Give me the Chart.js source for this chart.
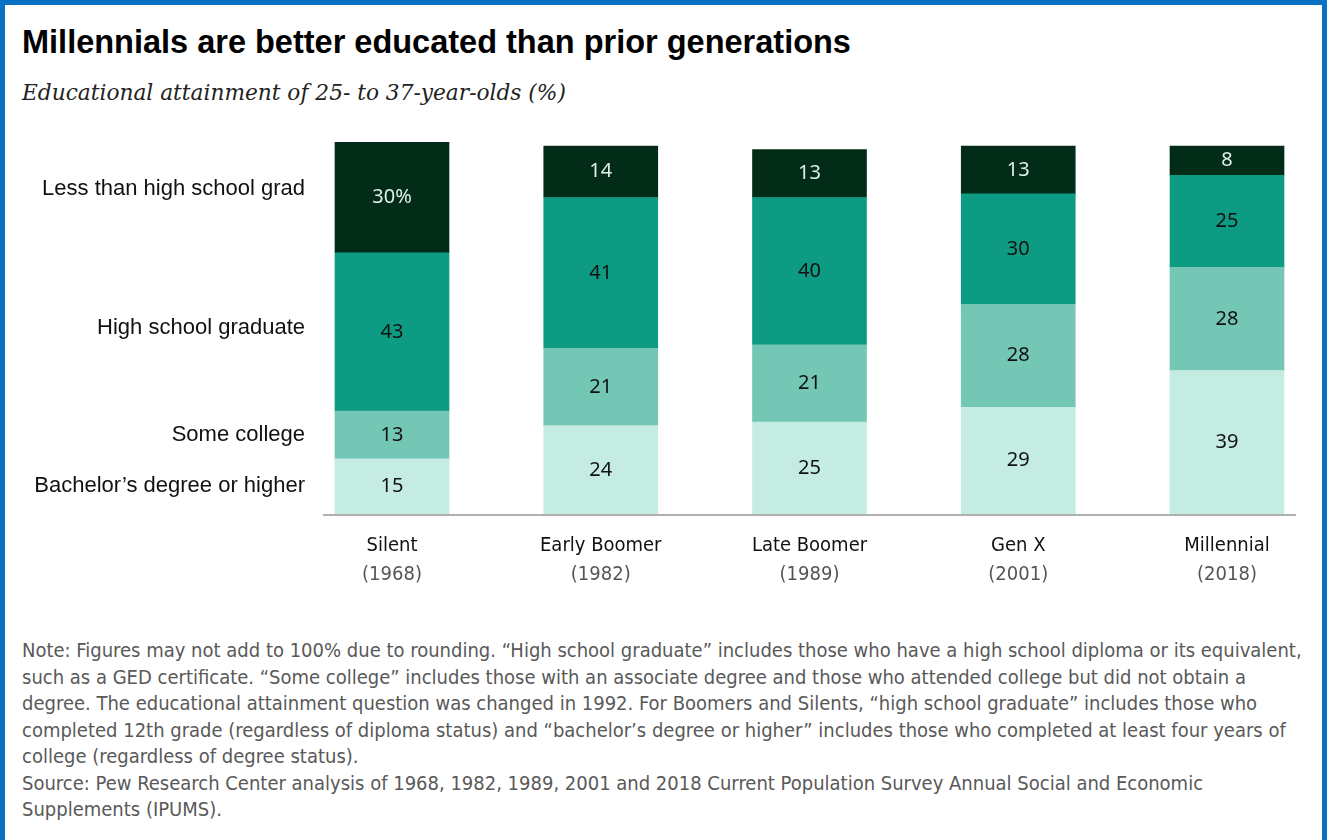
<!DOCTYPE html>
<html>
<head>
<meta charset="utf-8">
<script src="https://cdn.jsdelivr.net/npm/chart.js@4"></script>
<style>
    body { margin: 0; background: #fff; }
    #frame {
        position: absolute; left: 0; top: 0;
        width: 1317px; height: 845px;
        border: 5px solid #0a72c4; border-bottom: none;
        box-sizing: content-box;
    }
    #title {
        position: absolute; left: 22px; top: 24px;
        font: bold 32.5px "Liberation Sans", Arial, sans-serif;
        color: #000; white-space: nowrap;
    }
    #subtitle {
        position: absolute; left: 22px; top: 80px;
        font: italic 21.7px "DejaVu Serif", "Liberation Serif", serif;
        color: #222; white-space: nowrap;
    }
    #note {
        position: absolute; left: 22px; top: 637px;
        font: 20px "Liberation Sans Narrow", "DejaVu Sans Condensed", sans-serif;
        line-height: 26.5px; color: #595959; white-space: nowrap;
    }
    #c { position: absolute; left: 0; top: 0; }
</style>
</head>
<body>
<div id="frame"></div>
<div id="title">Millennials are better educated than prior generations</div>
<div id="subtitle">Educational attainment of 25- to 37-year-olds (%)</div>
<div id="note">Note: Figures may not add to 100% due to rounding. “High school graduate” includes those who have a high school diploma or its equivalent,<br>such as a GED certificate. “Some college” includes those with an associate degree and those who attended college but did not obtain a<br>degree. The educational attainment question was changed in 1992. For Boomers and Silents, “high school graduate” includes those who<br>completed 12th grade (regardless of diploma status) and “bachelor’s degree or higher” includes those who completed at least four years of<br>college (regardless of degree status).<br>Source: Pew Research Center analysis of 1968, 1982, 1989, 2001 and 2018 Current Population Survey Annual Social and Economic<br>Supplements (IPUMS).</div>
<canvas id="c" width="1327" height="840"></canvas>
<script>
const generations = ['Silent', 'Early Boomer', 'Late Boomer', 'Gen X', 'Millennial'];
const years = ['(1968)', '(1982)', '(1989)', '(2001)', '(2018)'];

// stacked from the bottom up
const bachelor = [15, 24, 25, 29, 39];
const someCollege = [13, 21, 21, 28, 28];
const hsGrad = [43, 41, 40, 30, 25];
const lessHS = [30, 14, 13, 13, 8];

const seriesNames = ['Bachelor’s degree or higher', 'Some college', 'High school graduate', 'Less than high school grad'];
const colors = ['#c4ece3', '#74c7b5', '#0d9b84', '#032c18'];
const labelColors = ['#111', '#111', '#111', '#dfeee6'];

const sans = '"Liberation Sans", Arial, sans-serif';
const narrow = '"Liberation Sans Narrow", "DejaVu Sans Condensed", sans-serif';

const drawExtras = {
    id: 'drawExtras',
    afterDatasetsDraw(chart) {
        let ctx = chart.ctx;
        let area = chart.chartArea;
        let x = chart.scales.x;
        ctx.save();

        // baseline
        ctx.strokeStyle = '#b0b0b0';
        ctx.lineWidth = 2;
        ctx.beginPath();
        ctx.moveTo(323, area.bottom + 1);
        ctx.lineTo(1296, area.bottom + 1);
        ctx.stroke();

        // values inside the segments
        ctx.textAlign = 'center';
        ctx.textBaseline = 'middle';
        ctx.font = '20px "Noto Sans", ' + sans;
        chart.data.datasets.forEach((ds, i) => {
            chart.getDatasetMeta(i).data.forEach((bar, j) => {
                let txt = String(ds.data[j]);
                if (i === 3 && j === 0) txt += '%';
                ctx.fillStyle = labelColors[i];
                ctx.fillText(txt, bar.x, (bar.y + bar.base) / 2);
            });
        });

        // series names next to the first bar
        ctx.textAlign = 'right';
        ctx.fillStyle = '#111';
        ctx.font = '22px ' + sans;
        chart.data.datasets.forEach((ds, i) => {
            let bar = chart.getDatasetMeta(i).data[0];
            ctx.fillText(ds.label, 305, (bar.y + bar.base) / 2 - (i === 3 ? 9 : i === 2 ? 4 : 0));
        });

        // category labels
        ctx.textAlign = 'center';
        ctx.font = '20px ' + narrow;
        generations.forEach((g, j) => {
            let px = x.getPixelForValue(j);
            ctx.fillStyle = '#111';
            ctx.fillText(g, px, area.bottom + 32);
            ctx.fillStyle = '#555';
            ctx.fillText(years[j], px, area.bottom + 61);
        });
        ctx.restore();
    }
};

new Chart(document.getElementById('c'), {
    type: 'bar',
    data: {
        labels: generations,
        datasets: [bachelor, someCollege, hsGrad, lessHS].map((d, i) => ({
            label: seriesNames[i],
            data: d,
            backgroundColor: colors[i],
            borderWidth: 0,
            barThickness: 114,
            clip: false
        }))
    },
    options: {
        responsive: false,
        animation: false,
        layout: { padding: { left: 392, right: 100, top: 146, bottom: 326 } },
        plugins: { legend: { display: false }, tooltip: { enabled: false } },
        scales: {
            x: { stacked: true, offset: false, display: false },
            y: { stacked: true, min: 0, max: 100, display: false }
        }
    },
    plugins: [drawExtras]
});
</script>
</body>
</html>
